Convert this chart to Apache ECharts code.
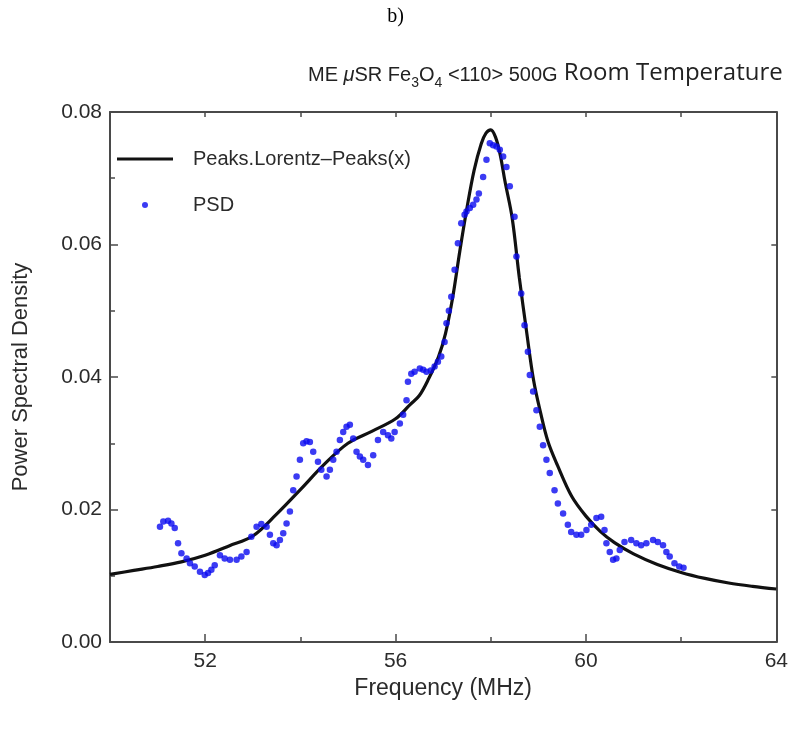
<!DOCTYPE html>
<html>
<head>
<meta charset="utf-8">
<script src="https://cdn.jsdelivr.net/npm/echarts@6/dist/echarts.min.js"></script>
<style>
html,body{margin:0;padding:0;background:#fff;}
#chart{width:791px;height:729px;}
</style>
</head>
<body>
<div id="chart"></div>
<script>
// Fitted curve (Peaks.Lorentz-Peaks(x))
const curveX = [50.0, 50.5, 51.0, 51.5, 52.0, 52.5, 53.0, 53.5, 54.0, 54.5, 55.0, 55.5, 56.0, 56.3, 56.5, 56.7, 56.9, 57.05, 57.2, 57.35, 57.5, 57.65, 57.8, 57.9, 58.0, 58.1, 58.2, 58.3, 58.45, 58.6, 58.75, 58.9, 59.05, 59.2, 59.4, 59.7, 60.0, 60.3, 60.6, 61.0, 61.5, 62.0, 62.5, 63.0, 63.5, 64.0];
const curveY = [0.0102, 0.0108, 0.0114, 0.0121, 0.0131, 0.0145, 0.0160, 0.0193, 0.0230, 0.0268, 0.0300, 0.0318, 0.0337, 0.0358, 0.0372, 0.0398, 0.0430, 0.0466, 0.0520, 0.0590, 0.0655, 0.0712, 0.0752, 0.0768, 0.0773, 0.0762, 0.0735, 0.0695, 0.0640, 0.0550, 0.0470, 0.0395, 0.0345, 0.0303, 0.0267, 0.0220, 0.0190, 0.0167, 0.0150, 0.0133, 0.0117, 0.0105, 0.0096, 0.0089, 0.0084, 0.0080];

// PSD data points
const psdX = [51.05, 51.12, 51.22, 51.29, 51.36, 51.43, 51.50, 51.61, 51.68, 51.78, 51.89, 51.99, 52.06, 52.13, 52.20, 52.31, 52.41, 52.52, 52.66, 52.76, 52.87, 52.97, 53.08, 53.18, 53.29, 53.36, 53.43, 53.50, 53.57, 53.64, 53.71, 53.78, 53.85, 53.92, 53.99, 54.06, 54.13, 54.20, 54.27, 54.37, 54.44, 54.55, 54.62, 54.69, 54.76, 54.83, 54.90, 54.97, 55.04, 55.11, 55.18, 55.25, 55.32, 55.42, 55.53, 55.63, 55.74, 55.84, 55.91, 55.98, 56.09, 56.16, 56.23, 56.26, 56.33, 56.40, 56.51, 56.58, 56.65, 56.74, 56.82, 56.89, 56.96, 57.03, 57.07, 57.12, 57.17, 57.24, 57.31, 57.38, 57.45, 57.49, 57.56, 57.63, 57.70, 57.75, 57.84, 57.91, 57.98, 58.05, 58.12, 58.19, 58.26, 58.33, 58.40, 58.50, 58.54, 58.64, 58.71, 58.78, 58.82, 58.89, 58.96, 59.03, 59.10, 59.17, 59.24, 59.34, 59.41, 59.52, 59.62, 59.69, 59.80, 59.90, 60.01, 60.11, 60.22, 60.32, 60.39, 60.43, 60.50, 60.57, 60.64, 60.71, 60.81, 60.95, 61.06, 61.16, 61.27, 61.41, 61.51, 61.62, 61.69, 61.76, 61.86, 61.96, 62.05];
const psdY = [0.0174, 0.0182, 0.0183, 0.0179, 0.0172, 0.0149, 0.0134, 0.0126, 0.0119, 0.0114, 0.0106, 0.0101, 0.0104, 0.0109, 0.0116, 0.0131, 0.0126, 0.0124, 0.0124, 0.0129, 0.0136, 0.0159, 0.0174, 0.0178, 0.0174, 0.0162, 0.0149, 0.0146, 0.0154, 0.0164, 0.0179, 0.0197, 0.0229, 0.0250, 0.0275, 0.0300, 0.0303, 0.0302, 0.0287, 0.0272, 0.0260, 0.0250, 0.0260, 0.0275, 0.0287, 0.0305, 0.0317, 0.0325, 0.0328, 0.0307, 0.0287, 0.0280, 0.0275, 0.0267, 0.0282, 0.0305, 0.0317, 0.0312, 0.0307, 0.0317, 0.0330, 0.0343, 0.0365, 0.0393, 0.0405, 0.0408, 0.0413, 0.0411, 0.0408, 0.0410, 0.0416, 0.0423, 0.0431, 0.0453, 0.0481, 0.0500, 0.0521, 0.0562, 0.0602, 0.0632, 0.0645, 0.0650, 0.0655, 0.0660, 0.0668, 0.0677, 0.0702, 0.0728, 0.0753, 0.0750, 0.0748, 0.0743, 0.0733, 0.0717, 0.0688, 0.0642, 0.0582, 0.0526, 0.0478, 0.0438, 0.0403, 0.0378, 0.0350, 0.0325, 0.0297, 0.0275, 0.0255, 0.0229, 0.0209, 0.0194, 0.0177, 0.0166, 0.0162, 0.0162, 0.0169, 0.0177, 0.0187, 0.0189, 0.0169, 0.0149, 0.0136, 0.0124, 0.0126, 0.0139, 0.0151, 0.0154, 0.0149, 0.0146, 0.0149, 0.0154, 0.0151, 0.0146, 0.0136, 0.0129, 0.0119, 0.0114, 0.0112];

const xMajorTicks = [52, 56, 60, 64];
const xMinorTicks = [54, 58, 62];

const lineName = 'Peaks.Lorentz\u2013Peaks(x)';
const psdName = 'PSD';

const sans = '"Liberation Sans", Arial, sans-serif';
const txt = '#2b2b2b';
const axisCol = '#4a4a4a';

const chart = echarts.init(document.getElementById('chart'), null, {renderer: 'canvas'});

const option = {
  backgroundColor: '#fff',
  animation: false,
  title: [
    {
      text: 'b)', left: 'center', top: 2,
      textStyle: {fontFamily: '"Liberation Serif", "Times New Roman", serif', fontSize: 20, fontWeight: 'normal', color: '#000'}
    },
    {
      text: '{a|ME }{i|\u03bc}{a|SR Fe}{s|3}{a|O}{s|4}{a| <110> 500G}{b| Room Temperature}',
      left: 303, top: 55,
      textStyle: {
        fontWeight: 'normal',
        rich: {
          a: {fontFamily: sans, fontSize: 20, fontWeight: 'normal', color: '#222'},
          i: {fontFamily: sans, fontSize: 20, fontWeight: 'normal', fontStyle: 'italic', color: '#222'},
          s: {fontFamily: sans, fontSize: 14, fontWeight: 'normal', color: '#222', padding: [16, 0, 0, 0]},
          b: {fontFamily: '"Open Sans", Lato, sans-serif', fontSize: 24, fontWeight: 'normal', color: '#222', padding: [0, 0, 4, 0]}
        }
      }
    }
  ],
  legend: [
    {
      data: [{name: lineName, icon: 'rect'}],
      left: 117, top: 149, padding: 0,
      itemWidth: 56, itemHeight: 3,
      textStyle: {fontFamily: sans, fontSize: 20, color: txt, padding: [0, 0, 0, 15]}
    },
    {
      data: [{name: psdName, icon: 'circle'}],
      left: 142, top: 195, padding: 0,
      itemWidth: 6, itemHeight: 6,
      textStyle: {fontFamily: sans, fontSize: 20, color: txt, padding: [0, 0, 0, 40]}
    }
  ],
  grid: {left: 110, right: 14, top: 112, bottom: 87, containLabel: false},
  xAxis: [
    {
      type: 'value', min: 50, max: 64, interval: 2, position: 'bottom',
      axisLine: {show: true, onZero: false, lineStyle: {color: axisCol, width: 2}},
      axisTick: {show: true, inside: true, length: 8, customValues: xMajorTicks, lineStyle: {color: axisCol, width: 1.5}},
      axisLabel: {show: true, customValues: xMajorTicks, fontFamily: sans, fontSize: 21, color: txt, margin: 9},
      splitLine: {show: false},
      name: 'Frequency (MHz)', nameLocation: 'middle', nameGap: 34,
      nameTextStyle: {fontFamily: sans, fontSize: 23, color: txt}
    },
    {
      type: 'value', min: 50, max: 64, interval: 2, position: 'bottom', offset: 0,
      axisLine: {show: false},
      axisTick: {show: true, inside: true, length: 5, customValues: xMinorTicks, lineStyle: {color: axisCol, width: 1.5}},
      axisLabel: {show: false},
      splitLine: {show: false}
    },
    {
      type: 'value', min: 50, max: 64, interval: 2, position: 'top',
      axisLine: {show: true, onZero: false, lineStyle: {color: axisCol, width: 2}},
      axisTick: {show: true, inside: true, length: 5, lineStyle: {color: axisCol, width: 1.5}},
      axisLabel: {show: false},
      splitLine: {show: false}
    }
  ],
  yAxis: [
    {
      type: 'value', min: 0, max: 0.08, interval: 0.02, position: 'left',
      axisLine: {show: true, onZero: false, lineStyle: {color: axisCol, width: 2}},
      axisTick: {show: true, inside: true, length: 8, lineStyle: {color: axisCol, width: 1.5}},
      minorTick: {show: true, splitNumber: 2, length: 5, lineStyle: {color: axisCol, width: 1.5}},
      axisLabel: {show: true, fontFamily: sans, fontSize: 21, color: txt, margin: 8, formatter: v => v.toFixed(2)},
      splitLine: {show: false},
      name: 'Power Spectral Density', nameLocation: 'middle', nameGap: 78, nameRotate: 90,
      nameTextStyle: {fontFamily: sans, fontSize: 22, color: txt}
    },
    {
      type: 'value', min: 0, max: 0.08, interval: 0.02, position: 'right',
      axisLine: {show: true, onZero: false, lineStyle: {color: axisCol, width: 2}},
      axisTick: {show: true, inside: true, length: 5, lineStyle: {color: axisCol, width: 1.5}},
      axisLabel: {show: false},
      splitLine: {show: false}
    }
  ],
  series: [
    {
      name: lineName, type: 'line', xAxisIndex: 0, yAxisIndex: 0,
      data: curveX.map((x, i) => [x, curveY[i]]),
      smooth: 0.35, symbol: 'none', showSymbol: false,
      lineStyle: {color: '#111', width: 3.2},
      itemStyle: {color: '#111'},
      z: 2
    },
    {
      name: psdName, type: 'scatter', xAxisIndex: 0, yAxisIndex: 0,
      data: psdX.map((x, i) => [x, psdY[i]]),
      symbol: 'circle', symbolSize: 6.5,
      itemStyle: {color: '#0a0af0'},
      z: 3
    }
  ]
};
chart.setOption(option);
</script>
</body>
</html>
